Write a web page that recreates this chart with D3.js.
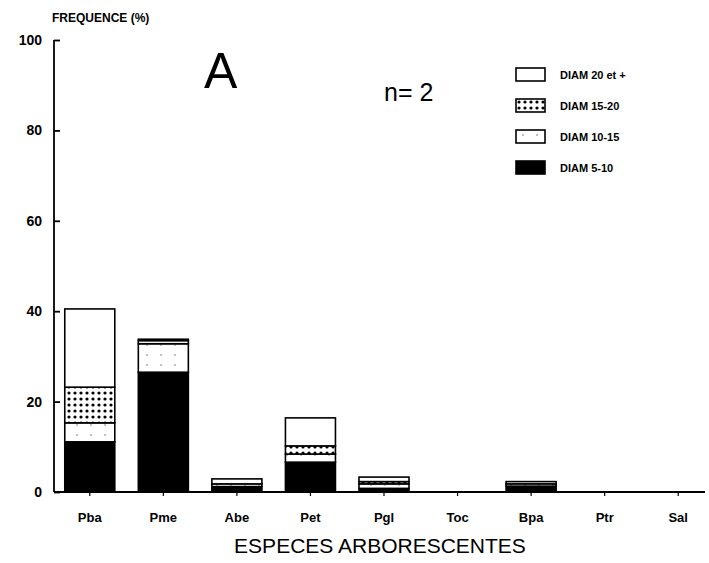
<!DOCTYPE html>
<html>
<head>
<meta charset="utf-8">
<script src="https://cdn.jsdelivr.net/npm/d3@7"></script>
<style>
  body { margin: 0; background: #fff; }
  text { font-family: "Liberation Sans", Arial, sans-serif; fill: #000; }
</style>
</head>
<body>
<div id="chart"></div>
<script>
// species codes on the x axis
const species = ["Pba", "Pme", "Abe", "Pet", "Pgl", "Toc", "Bpa", "Ptr", "Sal"];
// diameter classes, bottom to top
const classes = ["d5_10", "d10_15", "d15_20", "d20"];
const classLabels = ["DIAM 5-10", "DIAM 10-15", "DIAM 15-20", "DIAM 20 et +"];
// frequencies (%)
const diam5_10  = [11.1, 26.5, 1.2, 6.6, 0.8, 0, 1.3, 0, 0];
const diam10_15 = [4.2, 6.3, 0.6, 1.8, 1.0, 0, 0.5, 0, 0];
const diam15_20 = [7.9, 0.7, 0, 1.8, 0.5, 0, 0, 0, 0];
const diam20    = [17.3, 0.3, 1.1, 6.2, 1.0, 0, 0.5, 0, 0];
const yTicks = [0, 20, 40, 60, 80, 100];

const W = 709, H = 563;
const svg = d3.select("#chart").append("svg")
    .attr("width", W)
    .attr("height", H);

const defs = svg.append("defs");
const dots = defs.append("pattern")
    .attr("id", "dots")
    .attr("patternUnits", "userSpaceOnUse")
    .attr("width", 6).attr("height", 6);
dots.append("rect").attr("width", 6).attr("height", 6).attr("fill", "#fff");
dots.append("circle").attr("cx", 3).attr("cy", 3).attr("r", 1.6).attr("fill", "#000");

const sparse = defs.append("pattern")
    .attr("id", "sparse")
    .attr("patternUnits", "userSpaceOnUse")
    .attr("width", 14).attr("height", 10);
sparse.append("rect").attr("width", 14).attr("height", 10).attr("fill", "#fff");
sparse.append("circle").attr("cx", 7).attr("cy", 5).attr("r", 0.7).attr("fill", "#555");

const fills = {
    d5_10: "#000",
    d10_15: "url(#sparse)",
    d15_20: "url(#dots)",
    d20: "#fff"
};

const table = species.map((s, i) => ({
    sp: s,
    d5_10: diam5_10[i],
    d10_15: diam10_15[i],
    d15_20: diam15_20[i],
    d20: diam20[i]
}));

const x = d3.scaleBand()
    .domain(species)
    .range([53, 715])
    .paddingInner(0.32)
    .paddingOuter(0.16);

const y = d3.scaleLinear()
    .domain([0, 100])
    .range([492, 40]);

const stack = d3.stack().keys(classes);
const layers = stack(table);

svg.selectAll("g.layer")
    .data(layers)
    .enter()
    .append("g")
    .attr("class", "layer")
    .selectAll("rect")
    .data(d => d.map(v => Object.assign({ key: d.key }, { y0: v[0], y1: v[1], sp: v.data.sp })))
    .enter()
    .filter(d => d.y1 - d.y0 > 0)
    .append("rect")
    .attr("x", d => x(d.sp))
    .attr("y", d => y(d.y1))
    .attr("width", x.bandwidth())
    .attr("height", d => y(d.y0) - y(d.y1))
    .attr("fill", d => fills[d.key])
    .attr("stroke", "#000")
    .attr("stroke-width", 1.6);

// y axis
const yAxis = svg.append("g")
    .attr("transform", "translate(54,0)")
    .call(d3.axisRight(y).tickValues(yTicks).tickSize(6).tickFormat(""));
yAxis.select(".domain").attr("stroke-width", 1.8).attr("d", "M0," + y(100) + "V" + y(0));
yAxis.selectAll(".tick line").attr("stroke-width", 1.8);

svg.selectAll("text.ylab")
    .data(yTicks)
    .enter()
    .append("text")
    .attr("class", "ylab")
    .attr("x", 42)
    .attr("y", d => y(d) + 5)
    .attr("text-anchor", "end")
    .attr("font-size", 14)
    .attr("font-weight", "bold")
    .text(d => d);

// x axis
const xAxis = svg.append("g")
    .attr("transform", "translate(0," + y(0) + ")")
    .call(d3.axisBottom(x).tickSize(4).tickFormat(""));
xAxis.select(".domain").attr("stroke-width", 1.8).attr("d", "M54,0H705");
xAxis.selectAll(".tick line").attr("stroke-width", 1.2);

svg.selectAll("text.xlab")
    .data(species)
    .enter()
    .append("text")
    .attr("class", "xlab")
    .attr("x", d => x(d) + x.bandwidth() / 2)
    .attr("y", 522)
    .attr("text-anchor", "middle")
    .attr("font-size", 13)
    .attr("font-weight", "bold")
    .text(d => d);

svg.append("text")
    .attr("x", 380)
    .attr("y", 553)
    .attr("text-anchor", "middle")
    .attr("font-size", 21)
    .text("ESPECES ARBORESCENTES");

svg.append("text")
    .attr("x", 52)
    .attr("y", 22)
    .attr("font-size", 12)
    .attr("font-weight", "bold")
    .text("FREQUENCE (%)");

svg.append("text")
    .attr("x", 204)
    .attr("y", 88)
    .attr("font-size", 50)
    .text("A");

svg.append("text")
    .attr("x", 384)
    .attr("y", 101)
    .attr("font-size", 25)
    .text("n= 2");

// legend, top to bottom
const legendKeys = classes.slice().reverse();
const legendNames = classLabels.slice().reverse();
const legend = svg.append("g").attr("transform", "translate(516,68)");
legendKeys.forEach((k, i) => {
    const row = legend.append("g").attr("transform", "translate(0," + (i * 31) + ")");
    row.append("rect")
        .attr("width", 29)
        .attr("height", 13)
        .attr("fill", fills[k])
        .attr("stroke", "#000")
        .attr("stroke-width", 1.6);
    row.append("text")
        .attr("x", 44)
        .attr("y", 11)
        .attr("font-size", 11)
        .attr("font-weight", "bold")
        .text(legendNames[i]);
});
</script>
</body>
</html>
